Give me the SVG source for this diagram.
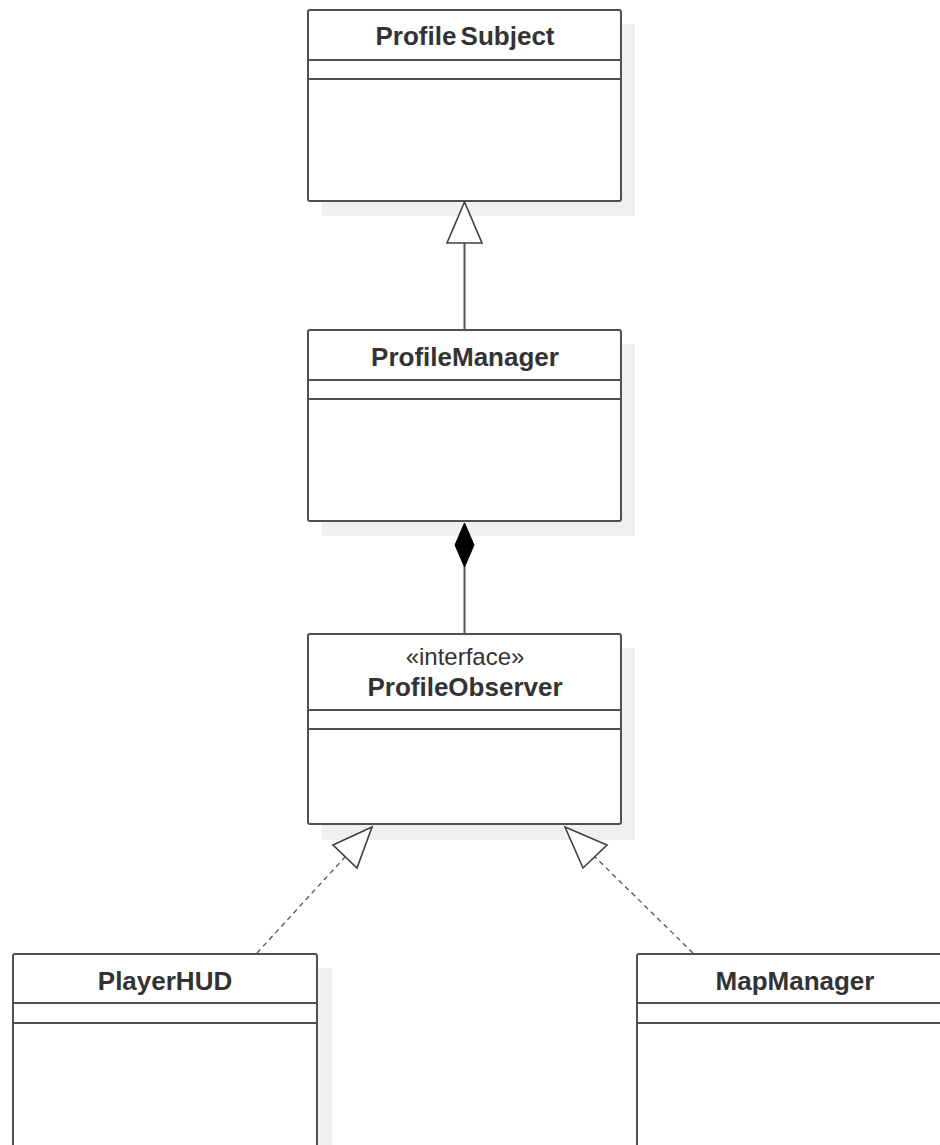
<svg xmlns="http://www.w3.org/2000/svg" width="940" height="1145" viewBox="0 0 940 1145">
  <defs>
    <style>
      .shadow { fill: #f0f0f0; stroke: none; }
      .box { fill: #ffffff; stroke: #505050; stroke-width: 2; }
      .div { stroke: #505050; stroke-width: 2; fill: none; }
      .name { font-family: "Liberation Sans", Arial, sans-serif; font-weight: bold; font-size: 26px; fill: #333333; text-anchor: middle; }
      .stereo { font-family: "Liberation Sans", Arial, sans-serif; font-size: 24px; fill: #333333; text-anchor: middle; }
      .edge { stroke: #555555; stroke-width: 2; fill: none; }
      .dashed { stroke: #555555; stroke-width: 1.3; fill: none; stroke-dasharray: 5 4; }
      .hollow { fill: #ffffff; stroke: #404040; stroke-width: 1.6; stroke-linejoin: miter; }
      .solid { fill: #000000; stroke: #000000; stroke-width: 1; }
    </style>
  </defs>

  <rect width="940" height="1145" fill="#ffffff"/>

  <!-- drop shadows sit beneath everything else -->
  <g id="shadows">
    <rect class="shadow" x="322" y="24" width="313" height="192"/>
    <rect class="shadow" x="322" y="344" width="313" height="192"/>
    <rect class="shadow" x="322" y="648" width="313" height="192"/>
    <rect class="shadow" x="27" y="968" width="305" height="190"/>
    <rect class="shadow" x="651" y="968" width="316" height="190"/>
  </g>

  <!-- ProfileSubject -->
  <g id="node-profile-subject">
    <rect class="box" x="308" y="10" width="313" height="191" rx="2"/>
    <line class="div" x1="308" y1="60" x2="621" y2="60"/>
    <line class="div" x1="308" y1="79" x2="621" y2="79"/>
    <text class="name" x="465" y="45" word-spacing="-3">Profile Subject</text>
  </g>

  <!-- ProfileManager -->
  <g id="node-profile-manager">
    <rect class="box" x="308" y="330" width="313" height="191" rx="2"/>
    <line class="div" x1="308" y1="380" x2="621" y2="380"/>
    <line class="div" x1="308" y1="399" x2="621" y2="399"/>
    <text class="name" x="465" y="366">ProfileManager</text>
  </g>

  <!-- ProfileObserver -->
  <g id="node-profile-observer">
    <rect class="box" x="308" y="634" width="313" height="190" rx="2"/>
    <line class="div" x1="308" y1="710" x2="621" y2="710"/>
    <line class="div" x1="308" y1="729" x2="621" y2="729"/>
    <text class="stereo" x="465" y="665">«interface»</text>
    <text class="name" x="465" y="696">ProfileObserver</text>
  </g>

  <!-- PlayerHUD -->
  <g id="node-player-hud">
    <rect class="box" x="13" y="954" width="304" height="200" rx="2"/>
    <line class="div" x1="13" y1="1003" x2="317" y2="1003"/>
    <line class="div" x1="13" y1="1023" x2="317" y2="1023"/>
    <text class="name" x="165" y="990">PlayerHUD</text>
  </g>

  <!-- MapManager -->
  <g id="node-map-manager">
    <rect class="box" x="637" y="954" width="316" height="200" rx="2"/>
    <line class="div" x1="637" y1="1003" x2="953" y2="1003"/>
    <line class="div" x1="637" y1="1023" x2="953" y2="1023"/>
    <text class="name" x="795" y="990">MapManager</text>
  </g>

  <!-- connectors -->
  <g id="connectors">
    <!-- ProfileManager generalizes ProfileSubject -->
    <line class="edge" x1="464.5" y1="243" x2="464.5" y2="330"/>
    <polygon class="hollow" points="464.5,202 447,243 482,243"/>
    <!-- ProfileManager composes ProfileObserver -->
    <line class="edge" x1="464.5" y1="566" x2="464.5" y2="634"/>
    <polygon class="solid" points="464.5,523 455,545 464.5,567 474,545"/>
    <!-- PlayerHUD realizes ProfileObserver -->
    <line class="dashed" x1="257" y1="953" x2="345" y2="857"/>
    <polygon class="hollow" points="372,827 333,845 357,868"/>
    <!-- MapManager realizes ProfileObserver -->
    <line class="dashed" x1="693" y1="953" x2="595" y2="857"/>
    <polygon class="hollow" points="565,827 607,845 583,868"/>
  </g>
</svg>
